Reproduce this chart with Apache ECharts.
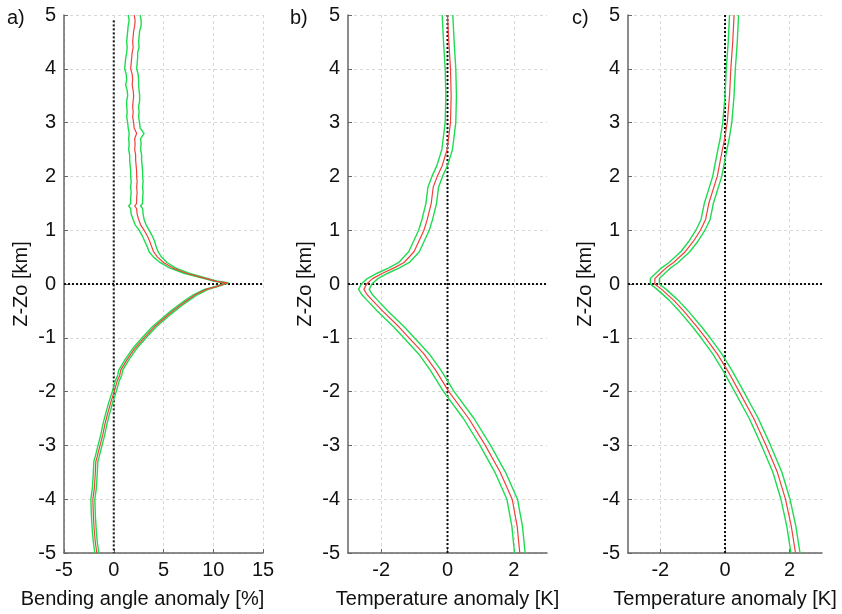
<!DOCTYPE html>
<html><head><meta charset="utf-8">
<script src="https://cdn.jsdelivr.net/npm/echarts@6/dist/echarts.min.js"></script>
<style>html,body{margin:0;padding:0;background:#fff}#c{width:842px;height:614px}</style>
</head><body><div id="c"></div>
<script>
// Panel a: bending angle anomaly [%]
const zA = [5,4.9,4.8,4.7,4.6,4.5,4.4,4.3,4.2,4.1,4.0,3.9,3.8,3.7,3.6,3.5,3.4,3.3,3.2,3.1,3.0,2.9,2.8,2.7,2.6,2.5,2.4,2.3,2.2,2.1,2.0,1.9,1.8,1.7,1.6,1.5,1.45,1.4,1.3,1.2,1.1,1.0,0.9,0.8,0.7,0.6,0.5,0.4,0.3,0.2,0.1,0.05,0.02,-0.05,-0.1,-0.2,-0.3,-0.4,-0.5,-0.6,-0.8,-1.0,-1.2,-1.4,-1.6,-1.7,-1.8,-2.0,-2.2,-2.4,-2.6,-2.8,-3.0,-3.2,-3.3,-3.5,-3.8,-4.0,-4.3,-4.6,-4.8,-5.0];
const meanA = [2.05,2.15,2.1,2.0,1.95,1.9,1.95,1.85,1.8,1.75,1.7,1.85,1.9,1.85,1.95,2.0,1.95,1.9,1.95,1.9,2.0,2.05,2.3,2.1,2.15,2.1,2.2,2.2,2.25,2.3,2.3,2.35,2.3,2.35,2.3,2.3,2.1,2.3,2.35,2.5,2.7,3.05,3.35,3.6,3.8,4.0,4.4,5.0,5.9,7.3,9.3,10.3,11.4,10.3,9.3,8.2,7.4,6.65,5.95,5.3,4.05,3.05,2.1,1.35,0.7,0.6,0.35,0.05,-0.3,-0.6,-0.88,-1.1,-1.38,-1.65,-1.8,-1.85,-1.95,-2.1,-2.05,-1.95,-1.85,-1.7];
const spreadA = [0.6,0.6,0.65,0.6,0.6,0.6,0.6,0.55,0.6,0.6,0.6,0.6,0.6,0.65,0.6,0.6,0.65,0.6,0.6,0.6,0.6,0.6,0.75,0.6,0.6,0.6,0.6,0.6,0.6,0.6,0.6,0.6,0.6,0.6,0.6,0.6,0.6,0.6,0.6,0.55,0.55,0.5,0.5,0.5,0.45,0.45,0.4,0.35,0.3,0.25,0.2,0.18,0.15,0.15,0.18,0.2,0.2,0.2,0.2,0.2,0.2,0.2,0.2,0.2,0.2,0.2,0.2,0.2,0.2,0.2,0.2,0.2,0.2,0.2,0.2,0.2,0.2,0.2,0.2,0.2,0.2,0.2];

// Panel b: temperature anomaly [K]
const zB = [5,4.5,4,3.5,3,2.5,2.2,2,1.8,1.5,1.2,1,0.8,0.6,0.4,0.3,0.2,0.1,0,-0.1,-0.2,-0.3,-0.5,-0.8,-1,-1.3,-1.6,-2,-2.5,-3,-3.5,-4,-4.5,-5];
const meanB = [0.0,0.04,0.09,0.11,0.09,-0.01,-0.16,-0.31,-0.43,-0.49,-0.61,-0.71,-0.86,-1.01,-1.31,-1.61,-1.96,-2.26,-2.44,-2.52,-2.42,-2.27,-1.96,-1.46,-1.16,-0.71,-0.36,0.04,0.64,1.14,1.59,1.95,2.1,2.18];
const spreadB = 0.16;

// Panel c: temperature anomaly [K]
const zC = [5,4.5,4,3.5,3,2.7,2.5,2,1.5,1.2,1,0.8,0.6,0.4,0.3,0.2,0.1,0,-0.1,-0.3,-0.5,-0.8,-1,-1.3,-1.6,-2,-2.5,-3,-3.5,-4,-4.5,-5];
const meanC = [0.28,0.24,0.18,0.14,0.07,-0.01,-0.08,-0.24,-0.5,-0.6,-0.76,-0.97,-1.23,-1.59,-1.82,-2.0,-2.17,-2.17,-1.96,-1.59,-1.28,-0.86,-0.6,-0.24,0.07,0.44,0.89,1.27,1.62,1.87,2.05,2.18];
const spreadC = 0.14;

const yTicks = [-5,-4,-3,-2,-1,0,1,2,3,4,5];
const xTicksA = [-5,0,5,10,15];
const xTicksBC = [-2,0,2];

const panelLabels = ['a)','b)','c)'];
const xNames = ['Bending angle anomaly [%]','Temperature anomaly [K]','Temperature anomaly [K]'];
const yName = 'Z-Zo [km]';

const FONT = 'Liberation Sans, Arial, Helvetica, sans-serif';
const FS = 20;
const RED = '#f0403c', GREEN = '#1edc50';

function pts(vals, zs, sp, sign) {
  return vals.map((v, i) => {
    const s = Array.isArray(sp) ? sp[i] : sp;
    return [v + sign * s, zs[i]];
  });
}

const grids = [
  {left: 64, top: 15, width: 199, height: 539},
  {left: 348, top: 15, width: 199, height: 539},
  {left: 628, top: 15, width: 194, height: 539}
];
const xRanges = [[-5,15],[-3,3],[-3,3]];
const xTickSets = [xTicksA, xTicksBC, xTicksBC];
const nameShift = [[0,42,0,0],[0,0,0,0],[0,0,0,0]];

const axisLineStyle = {color: '#666', width: 1.5};
const splitStyle = {color: '#d8d8d8', type: [3,3], width: 1};

const xAxes = grids.map((g, i) => ({
  type: 'value', gridIndex: i, min: xRanges[i][0], max: xRanges[i][1],
  name: xNames[i], nameLocation: 'middle', nameGap: 36,
  nameTextStyle: {fontFamily: FONT, fontSize: FS, color: '#111', padding: nameShift[i]},
  axisLine: {show: true, onZero: false, lineStyle: axisLineStyle},
  axisTick: {show: true, inside: true, length: 4, lineStyle: {color: '#666'}, customValues: xTickSets[i]},
  axisLabel: {fontFamily: FONT, fontSize: FS, color: '#111', margin: 7, customValues: xTickSets[i]},
  splitLine: {show: true, lineStyle: splitStyle}
}));
const yAxes = grids.map((g, i) => ({
  type: 'value', gridIndex: i, min: -5, max: 5, interval: 1,
  name: yName, nameLocation: 'middle', nameGap: 33, nameRotate: 90,
  nameTextStyle: {fontFamily: FONT, fontSize: FS, color: '#111'},
  axisLine: {show: true, onZero: false, lineStyle: axisLineStyle},
  axisTick: {show: true, inside: true, length: 4, lineStyle: {color: '#666'}},
  axisLabel: {fontFamily: FONT, fontSize: FS, color: '#111', margin: 8},
  splitLine: {show: true, lineStyle: splitStyle}
}));

const series = [];
const panels = [[meanA, zA, spreadA],[meanB, zB, spreadB],[meanC, zC, spreadC]];
panels.forEach((p, i) => {
  const [m, z, s] = panels[i];
  const base = {type: 'line', xAxisIndex: i, yAxisIndex: i, symbol: 'none', silent: true, animation: false};
  series.push(Object.assign({}, base, {
    data: [[0, i === 0 ? 4.9 : 5], [0, -5]],
    lineStyle: {color: '#111', width: 2, type: [2,2]}, z: 3
  }));
  series.push(Object.assign({}, base, {
    data: [[xRanges[i][0], 0], [xRanges[i][1], 0]],
    lineStyle: {color: '#111', width: 2, type: [2,2]}, z: 3
  }));
  series.push(Object.assign({}, base, {data: pts(m, z, s, -1), lineStyle: {color: GREEN, width: 1.4}, z: 4}));
  series.push(Object.assign({}, base, {data: pts(m, z, s, 1), lineStyle: {color: GREEN, width: 1.4}, z: 4}));
  series.push(Object.assign({}, base, {data: pts(m, z, 0, 0), lineStyle: {color: RED, width: 1.2}, z: 5}));
});

const chart = echarts.init(document.getElementById('c'), null, {renderer: 'canvas'});
chart.setOption({
  backgroundColor: '#fff',
  animation: false,
  grid: grids,
  xAxis: xAxes,
  yAxis: yAxes,
  series: series,
  graphic: [
    {type: 'text', left: 7, top: 8, style: {text: panelLabels[0], font: FS + 'px ' + FONT, fill: '#111'}},
    {type: 'text', left: 290, top: 8, style: {text: panelLabels[1], font: FS + 'px ' + FONT, fill: '#111'}},
    {type: 'text', left: 572, top: 8, style: {text: panelLabels[2], font: FS + 'px ' + FONT, fill: '#111'}}
  ]
});
</script></body></html>
